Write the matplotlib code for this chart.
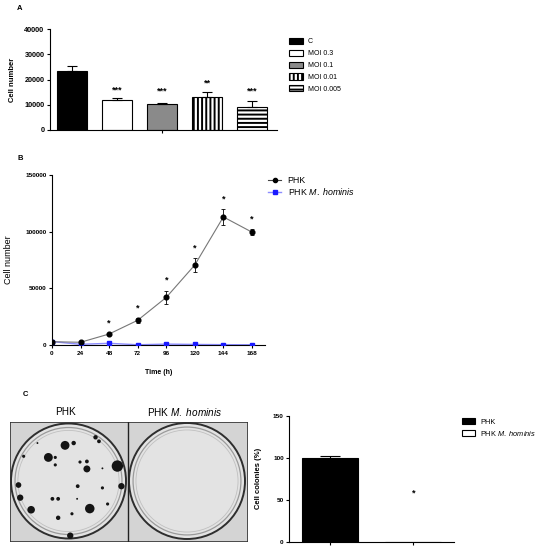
import matplotlib
matplotlib.use("Agg")
import matplotlib.pyplot as plt
from matplotlib.patches import Circle, Rectangle
from matplotlib.lines import Line2D
import numpy as np

plt.rcParams['font.family'] = ['Liberation Sans', 'DejaVu Sans']
plt.rcParams['mathtext.fontset'] = 'custom'
plt.rcParams['mathtext.rm'] = 'Liberation Sans'
plt.rcParams['mathtext.it'] = 'Liberation Sans:italic'
plt.rcParams['hatch.linewidth'] = 1.4
plt.rcParams['axes.linewidth'] = 0.8

# ---------------- data ----------------
# panel A
groups_a = ["C", "MOI 0.3", "MOI 0.1", "MOI 0.01", "MOI 0.005"]
cells_a = [23400, 11900, 10200, 13200, 9300]
err_a = [2100, 600, 350, 1700, 2300]
stars_a = ["", "***", "***", "**", "***"]
star_y_a = [0, 15800, 15600, 18600, 15600]

# panel B
time_h = [0, 24, 48, 72, 96, 120, 144, 168]
phk = [2900, 2400, 9700, 21800, 42000, 70600, 113000, 99600]
phk_err = [400, 500, 800, 2000, 6000, 6000, 7000, 2500]
mh = [3000, 600, 1500, 200, 800, 500, 300, 200]
mh_err = [300, 200, 300, 100, 200, 100, 100, 100]
stars_b = ["", "", "*", "*", "*", "*", "*", "*"]

# panel C
groups_c = ["PHK", "PHK M. hominis"]
colonies_pct = [100, 0]
colonies_err = [1.5, 0]
star_c = 58

# colonies seen on the PHK plate (x, y in plate radii, r in plate radii)
col_x = [-0.06, 0.09, 0.47, 0.53, -0.35, -0.23, -0.23, 0.85, 0.32, 0.20, 0.32, -0.78, -0.54, 0.59,
         -0.87, 0.92, 0.16, 0.59, -0.84, -0.28, -0.18, 0.15, 0.68, -0.65, 0.37, -0.18, 0.06, 0.03]
col_y = [0.62, 0.66, 0.76, 0.69, 0.41, 0.41, 0.28, 0.26, 0.34, 0.33, 0.21, 0.43, 0.66, 0.22,
         -0.07, -0.09, -0.09, -0.12, -0.29, -0.31, -0.31, -0.31, -0.40, -0.50, -0.48, -0.64, -0.57, -0.95]
col_r = [0.07, 0.035, 0.035, 0.03, 0.07, 0.025, 0.025, 0.09, 0.03, 0.025, 0.055, 0.025, 0.015, 0.015,
         0.045, 0.05, 0.03, 0.025, 0.05, 0.03, 0.03, 0.015, 0.025, 0.06, 0.075, 0.035, 0.025, 0.05]

W, H = 539, 550
fig = plt.figure(figsize=(W / 100, H / 100), dpi=100)


def px_axes(x0, y_top, x1, y_bot):
    return fig.add_axes([x0 / W, 1 - y_bot / H, (x1 - x0) / W, (y_bot - y_top) / H])


def prism_style(ax, fs):
    ax.spines['top'].set_visible(False)
    ax.spines['right'].set_visible(False)
    ax.tick_params(length=2.5, width=0.8, labelsize=fs, pad=1.5)
    for t in ax.get_yticklabels() + ax.get_xticklabels():
        t.set_fontweight('bold')


def italic_name(prefix):
    # "PHK M. hominis" with the species name in italics
    return prefix + r" $\it{M.\ hominis}$"


# ---------------- A ----------------
axA = px_axes(50, 29, 277, 130)
xa = np.arange(len(groups_a))
fills = ["black", "white", "#8a8a8a", "white", "white"]
hatches = [None, None, None, "||||", "----"]
for i in xa:
    axA.bar(i, cells_a[i], width=0.67, color=fills[i], edgecolor="black",
            hatch=hatches[i], linewidth=0.8, label=groups_a[i])
axA.errorbar(xa, cells_a, yerr=[np.zeros(len(xa)), err_a], fmt='none', ecolor='black',
             elinewidth=0.8, capsize=3.5, capthick=0.8)
for i in xa:
    if stars_a[i]:
        axA.text(i, star_y_a[i], stars_a[i], ha='center', va='center', fontsize=6.5, fontweight='bold')
axA.set_xlim(-0.5, 4.56)
axA.set_ylim(0, 40000)
axA.set_yticks([0, 10000, 20000, 30000, 40000])
axA.set_xticks([2])
axA.set_xticklabels([""])
axA.set_ylabel("Cell number", fontsize=5.5, fontweight='bold', labelpad=6)
prism_style(axA, 5.2)
axA.legend(loc='upper left', bbox_to_anchor=(289 / W, 1 - 38 / H), bbox_transform=fig.transFigure,
           frameon=False, fontsize=5.0, handlelength=2.0, handleheight=1.0, labelspacing=0.62,
           handletextpad=0.7, borderaxespad=0, borderpad=0)
fig.text(17 / W, 1 - 8 / H, "A", fontsize=5.5, fontweight='bold', va='center')

# ---------------- B ----------------
axB = px_axes(52, 175, 265, 345)
axB.errorbar(time_h, mh, yerr=mh_err, fmt='none', ecolor="#1a1aff", elinewidth=0.6, capsize=1.5, zorder=2)
axB.plot(time_h, mh, color="#8c8cff", lw=1.0, zorder=2)
axB.plot(time_h, mh, 's', color="#1a1aff", ms=3.4, zorder=3)
axB.errorbar(time_h, phk, yerr=phk_err, fmt='none', ecolor="black", elinewidth=0.6, capsize=1.5,
             capthick=0.6, zorder=4)
axB.plot(time_h, phk, color="#777777", lw=0.8, zorder=4)
axB.plot(time_h, phk, 'o', color="black", ms=3.4, zorder=5)
for t, v, e, s in zip(time_h, phk, phk_err, stars_b):
    if s:
        axB.text(t, v + e + 9000, s, ha='center', va='center', fontsize=6.5, fontweight='bold')
axB.set_xlim(0, 179)
axB.set_ylim(0, 150000)
axB.set_xticks(time_h)
axB.set_yticks([0, 50000, 100000, 150000])
axB.set_xlabel("Time (h)", fontsize=5, fontweight='bold', labelpad=10)
axB.set_ylabel("Cell number", fontsize=6.5, labelpad=9)
prism_style(axB, 4.6)
handles_b = [Line2D([], [], color="#444444", lw=0.8, marker='o', mfc='black', mec='black', ms=3),
             Line2D([], [], color="#8c8cff", lw=1.0, marker='s', mfc='#1a1aff', mec='#1a1aff', ms=3)]
axB.legend(handles_b, ["PHK", italic_name("PHK")], loc='upper left',
           bbox_to_anchor=(268 / W, 1 - 176 / H), bbox_transform=fig.transFigure, frameon=False,
           fontsize=6.4, handlelength=1.5, labelspacing=0.1, handletextpad=0.7,
           borderaxespad=0, borderpad=0)
fig.text(18 / W, 1 - 159 / H, "B", fontsize=5.5, fontweight='bold', va='center')

# ---------------- C photo ----------------
axP = px_axes(10, 422, 248, 542)
axP.set_xlim(0, 238)
axP.set_ylim(0, 120)
axP.axis('off')
axP.add_patch(Rectangle((0, 0), 238, 120, facecolor="#d4d4d4", edgecolor="#333333", lw=1.2))
axP.plot([118, 118], [0, 120], color="#222222", lw=1.0)
for cx, cy, r in [(58.5, 61, 57.5), (177, 61, 58)]:
    axP.add_patch(Circle((cx, cy), r, facecolor="#e3e3e3", edgecolor="#2e2e2e", lw=1.4))
    axP.add_patch(Circle((cx, cy), r * 0.93, facecolor="none", edgecolor="#9a9a9a", lw=0.9))
    axP.add_patch(Circle((cx, cy), r * 0.88, facecolor="none", edgecolor="#c0c0c0", lw=0.6))
for x, y, r in zip(col_x, col_y, col_r):
    axP.add_patch(Circle((58.5 + x * 57.5, 61 + y * 57.5), max(r * 57.5 * 1.1, 0.9),
                         facecolor="#141414", edgecolor="none"))
fig.text(66 / W, 1 - 412 / H, groups_c[0], fontsize=7.2, ha='center', va='center')
fig.text(185 / W, 1 - 412 / H, italic_name("PHK"), fontsize=7.2, ha='center', va='center')
fig.text(23 / W, 1 - 395 / H, "C", fontsize=5.5, fontweight='bold', va='center')

# ---------------- C bars ----------------
axC = px_axes(289.3, 415.7, 454, 541.7)
xc = np.arange(len(groups_c))
labels_c = ["PHK", italic_name("PHK")]
for i in xc:
    axC.bar(i, colonies_pct[i], width=0.675, color=["black", "white"][i], edgecolor="black",
            linewidth=0.8, label=labels_c[i])
axC.errorbar(xc[:1], colonies_pct[:1], yerr=[[0], colonies_err[:1]], fmt='none', ecolor='black',
             elinewidth=0.8, capsize=7, capthick=0.8)
axC.text(1, star_c, "*", ha='center', va='center', fontsize=6.5, fontweight='bold')
axC.set_xlim(-0.49, 1.49)
axC.set_ylim(0, 150)
axC.set_xticks(xc)
axC.set_xticklabels(["", ""])
axC.set_yticks([0, 50, 100, 150])
axC.set_ylabel("Cell colonies (%)", fontsize=5.5, fontweight='bold', labelpad=8)
prism_style(axC, 4.6)
axC.legend(loc='upper left', bbox_to_anchor=(462 / W, 1 - 418 / H), bbox_transform=fig.transFigure,
           frameon=False, fontsize=5.3, handlelength=1.8, handleheight=0.9, labelspacing=0.45,
           handletextpad=0.7, borderaxespad=0, borderpad=0)

fig.savefig("out.png", dpi=100)
